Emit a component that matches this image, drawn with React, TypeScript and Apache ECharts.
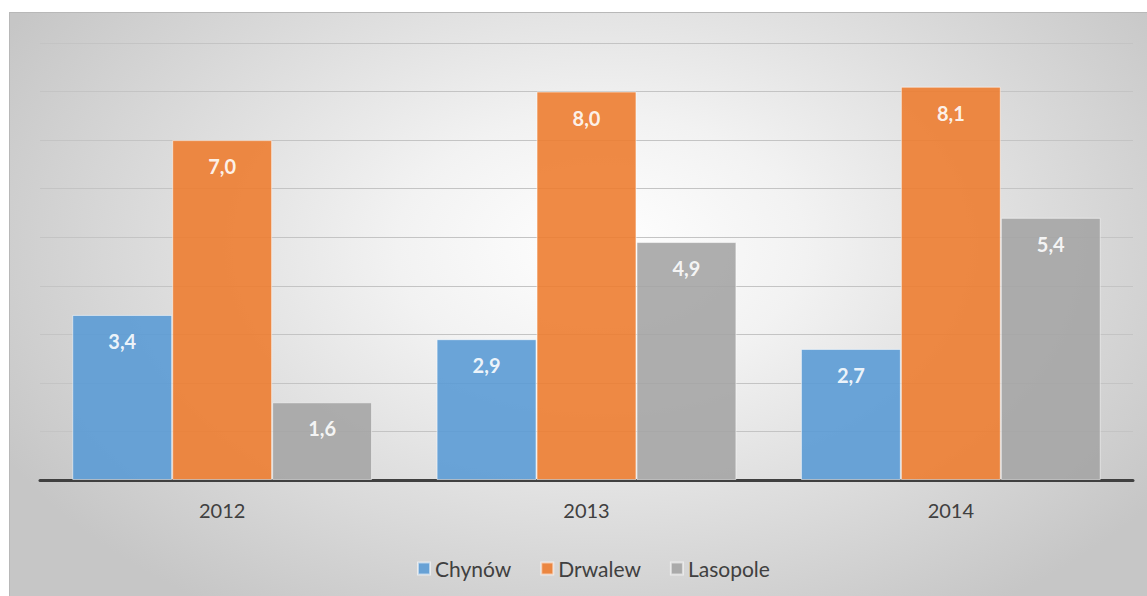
import React, { useEffect, useRef } from "react";
import * as echarts from "echarts";

const categories = ["2012", "2013", "2014"];
const chynow = [3.4, 2.9, 2.7];
const drwalew = [7.0, 8.0, 8.1];
const lasopole = [1.6, 4.9, 5.4];

const FONT = "Lato, 'Open Sans', sans-serif";

export default function App() {
  const ref = useRef<HTMLDivElement>(null);
  useEffect(() => {
    if (!ref.current) return;
    const chart = echarts.init(ref.current, null, { renderer: "svg" });
    const label = {
      show: true,
      position: "insideTop",
      distance: 16,
      color: "#ffffff",
      fontWeight: "bold",
      fontSize: 20,
      fontFamily: FONT,
      formatter: (p: any) => p.value.toFixed(1).replace(".", ","),
    };
    const mk = (name: string, data: number[], color: string) => ({
      name,
      type: "bar",
      data,
      barGap: "0%",
      barCategoryGap: "17.7%",
      label,
      itemStyle: { color, opacity: 0.9, borderColor: "rgba(255,255,255,0.6)", borderWidth: 1 },
    });
    chart.setOption({
      animation: false,
      textStyle: { fontFamily: FONT },
      grid: { left: 30, right: 14, top: 30, bottom: 116, containLabel: false },
      legend: {
        top: 540,
        left: 402,
        itemWidth: 12,
        itemHeight: 12,
        itemGap: 29,
        icon: "rect",
        textStyle: { fontSize: 21, color: "#404040", fontFamily: FONT },
        data: ["Chynów", "Drwalew", "Lasopole"],
      },
      xAxis: {
        type: "category",
        data: categories,
        axisLine: { lineStyle: { color: "#404040", width: 3 } },
        axisTick: { show: false },
        axisLabel: { color: "#404040", fontSize: 20, margin: 20, fontFamily: FONT },
      },
      yAxis: {
        type: "value",
        min: 0,
        max: 9,
        interval: 1,
        axisLabel: { show: false },
        axisLine: { show: false },
        axisTick: { show: false },
        splitLine: { lineStyle: { color: "#c4c4c4", width: 1 } },
      },
      series: [
        mk("Chynów", chynow, "#5B9BD5"),
        mk("Drwalew", drwalew, "#ED7D31"),
        mk("Lasopole", lasopole, "#A5A5A5"),
      ],
    });
    return () => chart.dispose();
  }, []);
  return (
    <div
      style={{
        position: "absolute",
        left: 9,
        top: 12,
        width: 1138,
        height: 584,
        borderTop: "1px solid #b8b8b8",
        borderLeft: "1px solid #b8b8b8",
        boxSizing: "border-box",
        background: "radial-gradient(ellipse 60% 75% at 52% 40%, #ffffff 0%, #f2f2f2 30%, #dcdcdc 65%, #c6c6c6 100%)",
      }}
    >
      <div ref={ref} style={{ width: 1137, height: 583 }} />
    </div>
  );
}
